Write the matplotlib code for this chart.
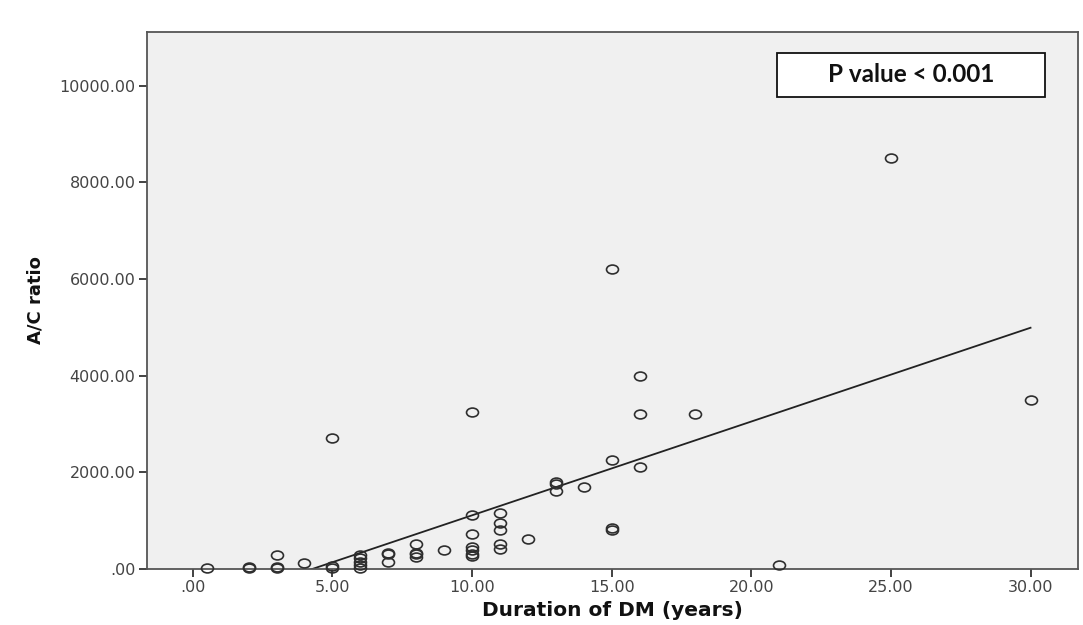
#%%

import numpy as np
import matplotlib
matplotlib.use('Agg')
import matplotlib.pyplot as plt
from matplotlib.path import Path
from matplotlib.transforms import Affine2D
from matplotlib.patches import Rectangle

#%% Data

duration_years = [0.5,
                  2, 2,
                  3, 3, 3,
                  4,
                  5, 5, 5,
                  6, 6, 6, 6, 6,
                  7, 7, 7,
                  8, 8, 8, 8,
                  9,
                  10, 10, 10, 10, 10, 10, 10,
                  11, 11, 11, 11, 11,
                  12,
                  13, 13, 13,
                  14,
                  15, 15, 15, 15,
                  16, 16, 16,
                  18,
                  21,
                  25,
                  30]

ac_ratio = [30,
            20, 40,
            290, 30, 50,
            125,
            2700, 30, 60,
            290, 220, 150, 80, 30,
            310, 330, 150,
            520, 330, 300, 250,
            400,
            3250, 1120, 720, 460, 390, 320, 260,
            1160, 950, 800, 510, 410,
            630,
            1790, 1750, 1610,
            1700,
            6200, 2250, 850, 800,
            4000, 3200, 2100,
            3200,
            80,
            8500,
            3500]

# fit line as drawn in the reference
fit_slope = 194.0
fit_intercept = -830.0

x_ticks = [0, 5, 10, 15, 20, 25, 30]
y_ticks = [0, 2000, 4000, 6000, 8000, 10000]

p_text = 'P value < 0.001'

#%% Figure

W, H = 1083, 625
fig = plt.figure(figsize=(W/100, H/100), dpi=100)
fig.patch.set_facecolor('white')

ax_l, ax_r, ax_t, ax_b = 146.7, 1078, 32, 569
ax = fig.add_axes([ax_l/W, 1-ax_b/H, (ax_r-ax_l)/W, (ax_b-ax_t)/H])
ax.set_facecolor('#f0f0f0')

# elliptical open marker (reference image is stretched horizontally)
ellipse = Path.unit_circle().transformed(Affine2D().scale(1.35, 1.0))

ax.plot(duration_years, ac_ratio, linestyle='none', marker=ellipse,
        markersize=8.6, markerfacecolor='none', markeredgecolor='#2e2e2e',
        markeredgewidth=1.2, clip_on=False, zorder=3)

x_fit = np.array([min(duration_years), max(duration_years)])
ax.plot(x_fit, fit_intercept+fit_slope*x_fit, color='#222222', lw=1.3, zorder=2)

ax.set_xlim(-1.65, 31.7)
ax.set_ylim(0, 11107)

def spss_fmt(v):
    s = '%.2f' % v
    if s.startswith('0.'):
        s = s[1:]
    return s

ax.set_xticks(x_ticks)
ax.set_xticklabels([spss_fmt(v) for v in x_ticks])
ax.set_yticks(y_ticks)
ax.set_yticklabels([spss_fmt(v) for v in y_ticks])

ax.tick_params(axis='both', direction='out', length=6, width=1.2, color='#222222',
               labelsize=11.5, labelcolor='#444444', pad=2)
for lab in ax.get_xticklabels()+ax.get_yticklabels():
    lab.set_family('DejaVu Sans')

for sp in ax.spines.values():
    sp.set_color('#555555')
    sp.set_linewidth(1.3)

ax.set_xlabel('Duration of DM (years)', fontsize=14.5, fontweight='bold',
              family='DejaVu Sans', color='#111111', labelpad=4)
ax.set_ylabel('A/C ratio', fontsize=13, fontweight='bold',
              family=['Liberation Sans Narrow', 'DejaVu Sans'], color='#111111', labelpad=11)

#%% P value box

bx0 = (777-ax_l)/(ax_r-ax_l)
bx1 = (1045-ax_l)/(ax_r-ax_l)
by0 = (ax_b-97)/(ax_b-ax_t)
by1 = (ax_b-53)/(ax_b-ax_t)
ax.add_patch(Rectangle((bx0, by0), bx1-bx0, by1-by0, transform=ax.transAxes,
                       facecolor='white', edgecolor='#111111', lw=1.3, zorder=5))
ax.text((bx0+bx1)/2, (by0+by1)/2, p_text, transform=ax.transAxes, ha='center', va='center',
        fontsize=17.5, fontweight='bold', family=['Lato', 'DejaVu Sans'], color='#111111', zorder=6)

fig.savefig('out.png', dpi=100, facecolor='white')
